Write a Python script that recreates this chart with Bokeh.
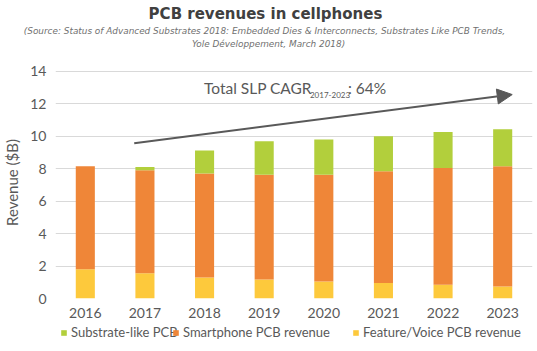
from bokeh.plotting import figure
from bokeh.layouts import column
from bokeh.models import (ColumnDataSource, Range1d, FixedTicker, Legend, LegendItem,
                          Label, Arrow, NormalHead)
from bokeh.embed import file_html
from bokeh.resources import INLINE

years = ["2016", "2017", "2018", "2019", "2020", "2021", "2022", "2023"]
feature_voice = [1.80, 1.55, 1.30, 1.17, 1.05, 0.95, 0.84, 0.74]
smartphone = [6.35, 6.35, 6.40, 6.46, 6.58, 6.89, 7.21, 7.41]
substrate_like = [0.00, 0.20, 1.43, 2.07, 2.17, 2.16, 2.22, 2.28]
y_ticks = [0, 2, 4, 6, 8, 10, 12, 14]
series_names = ["Substrate-like PCB", "Smartphone PCB revenue", "Feature/Voice PCB revenue"]
colors = {"slp": "#b2cf3c", "smart": "#ef8638", "feat": "#fdc93c"}
title_text = "PCB revenues in cellphones"
subtitle_lines = ["(Source: Status of Advanced Substrates 2018: Embedded Dies & Interconnects, Substrates Like PCB Trends,",
                  "Yole Développement, March 2018)"]

TEXT = "#595959"
FONT = "Lato"
W = 537
FL, FR = 54, 5   # main chart frame borders

# ---- title strip ----
TH = 56
tf = figure(width=W, height=TH, output_backend="svg", toolbar_location=None,
            x_axis_type=None, y_axis_type=None, min_border=0)
UNALIGNED = "frame_align" in tf.properties()
if UNALIGNED:
    tf.frame_align = False
x0, x1 = (0, W) if UNALIGNED else (FL, W - FR)
tf.x_range = Range1d(x0, x1)
tf.y_range = Range1d(TH, 0)
tf.grid.visible = False
tf.outline_line_color = None
tf.add_layout(Label(x=265, y=13, text=title_text, text_font="DejaVu Sans", text_font_size="15px",
                    text_font_style="bold", text_color="#404040", text_align="center",
                    text_baseline="middle"))
tf.add_layout(Label(x=264 if UNALIGNED else 293, y=30, text=subtitle_lines[0], text_font="DejaVu Sans",
                    text_font_size="8.9px" if UNALIGNED else "8.6px", text_font_style="italic",
                    text_color="#707070", text_align="center", text_baseline="middle"))
tf.add_layout(Label(x=268, y=43, text=subtitle_lines[1], text_font="DejaVu Sans",
                    text_font_size="8.9px", text_font_style="italic", text_color="#707070",
                    text_align="center", text_baseline="middle"))

# ---- main chart ----
xs = [i + 0.5 for i in range(len(years))]
src = ColumnDataSource(dict(x=xs, feat=feature_voice, smart=smartphone, slp=substrate_like))

p = figure(width=W, height=268, output_backend="svg", toolbar_location=None,
           x_range=Range1d(0, len(years)), y_range=Range1d(0, 14.3),
           title=None,
           min_border_left=FL, min_border_right=FR, min_border_top=10, min_border_bottom=26)

rs = p.vbar_stack(["feat", "smart", "slp"], x="x", width=0.32,
                  fill_color=[colors["feat"], colors["smart"], colors["slp"]],
                  line_color=None, source=src)

p.xgrid.visible = False
p.ygrid.grid_line_color = "#d9d9d9"
p.ygrid.grid_line_width = 1
p.outline_line_color = None

p.yaxis.ticker = FixedTicker(ticks=y_ticks)
p.xaxis.ticker = FixedTicker(ticks=xs)
p.xaxis.major_label_overrides = {x: y for x, y in zip(xs, years)}
for ax in (p.xaxis, p.yaxis):
    ax.axis_line_color = None
    ax.major_tick_line_color = None
    ax.minor_tick_line_color = None
    ax.major_tick_out = 0
    ax.major_tick_in = 0
    ax.minor_tick_out = 0
    ax.minor_tick_in = 0
    ax.major_label_text_font = FONT
    ax.major_label_text_font_size = "14px"
    ax.major_label_text_color = TEXT
p.xaxis.major_label_standoff = 9
p.yaxis.major_label_standoff = 9
p.yaxis.axis_label = "Revenue ($B)"
p.yaxis.axis_label_text_font = FONT
p.yaxis.axis_label_text_font_size = "15px"
p.yaxis.axis_label_text_font_style = "normal"
p.yaxis.axis_label_text_color = TEXT
p.yaxis.axis_label_standoff = 6

# Trend arrow and CAGR annotation
p.add_layout(Arrow(end=NormalHead(size=15, fill_color="#595959", line_color="#595959"),
                   x_start=1.32, y_start=9.57, x_end=7.66, y_end=12.57,
                   line_color="#595959", line_width=2))
p.add_layout(Label(x=2.49, y=12.96, text="Total SLP CAGR", text_font=FONT,
                   text_font_size="15.5px", text_color=TEXT, text_baseline="middle"))
p.add_layout(Label(x=2.49, y=12.96, x_offset=106, y_offset=-7, text="2017-2023", text_font=FONT,
                   text_font_size="8px", text_color=TEXT, text_baseline="middle"))
p.add_layout(Label(x=2.49, y=12.96, x_offset=144, text=": 64%", text_font=FONT,
                   text_font_size="15.5px", text_color=TEXT, text_baseline="middle"))

# ---- legend strip ----
LH = 25
lf = figure(width=W, height=LH, output_backend="svg", toolbar_location=None,
            x_axis_type=None, y_axis_type=None, min_border=0)
if UNALIGNED:
    lf.frame_align = False
lf.x_range = Range1d(x0, x1)
lf.y_range = Range1d(0, LH)
lf.grid.visible = False
lf.outline_line_color = None
legend_keys = ["slp", "smart", "feat"]
legend_x = [60, 172, 352]
for name, key, lx in zip(series_names, legend_keys, legend_x):
    r = lf.vbar(x=[-1000], top=[0], bottom=[0], width=1, fill_color=colors[key], line_color=None)
    lg = Legend(items=[LegendItem(label=name, renderers=[r])], location=(lx - x0, 9),
                glyph_width=7, glyph_height=7, label_standoff=4, padding=0, margin=0,
                border_line_color=None, background_fill_alpha=0, label_text_font=FONT,
                label_text_font_size="13px", label_text_color=TEXT, label_height=16)
    lf.add_layout(lg, "center")

open("out.html", "w").write(file_html(column(tf, p, lf), INLINE))
